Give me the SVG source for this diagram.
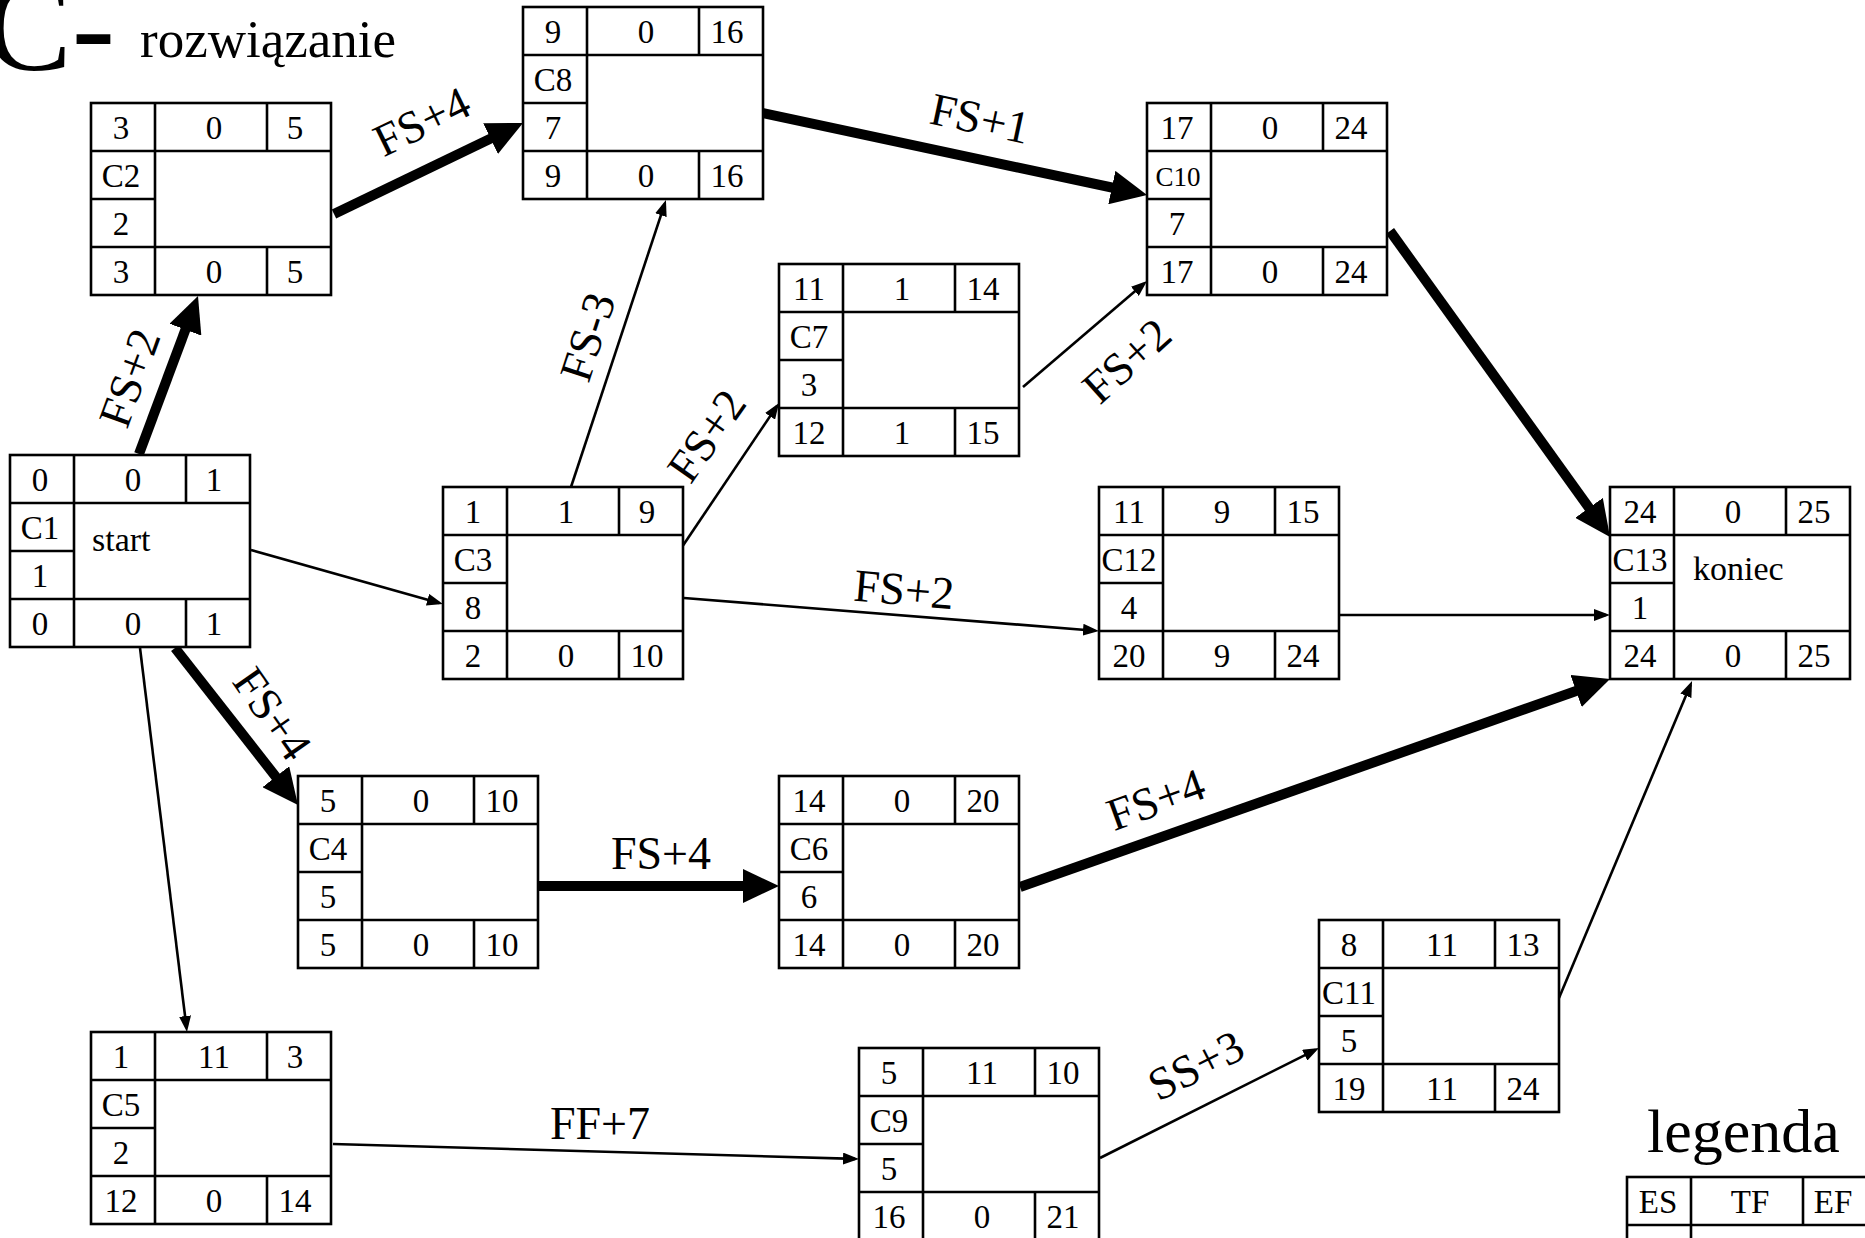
<svg xmlns="http://www.w3.org/2000/svg" xmlns:xlink="http://www.w3.org/1999/xlink" width="1865" height="1238" viewBox="0 0 1865 1238">
<style>
text{font-family:"Liberation Serif","Times New Roman",serif;fill:#000}
.n{font-size:33px;text-anchor:middle}
.c10{font-size:27px}
.inner{font-size:34px}
.lbl{font-size:46px;text-anchor:middle}
.box rect{fill:#fff;stroke:#000;stroke-width:2.6}
.box line{stroke:#000;stroke-width:2.6}
.thick{stroke:#000;stroke-width:10;fill:none;marker-end:url(#ahThick)}
.thin{stroke:#000;stroke-width:2.6;fill:none;marker-end:url(#ahThin)}
</style>
<defs>
<marker id="ahThick" markerUnits="userSpaceOnUse" markerWidth="36" markerHeight="34" refX="24" refY="17" orient="auto"><path d="M0,0 L36,17 L0,34 z" fill="#000"/></marker>
<marker id="ahThin" markerUnits="userSpaceOnUse" markerWidth="16" markerHeight="12" refX="12" refY="6" orient="auto"><path d="M0,0 L16,6 L0,12 z" fill="#000"/></marker>
<g id="box" class="box">
<rect x="0" y="0" width="240" height="192"/>
<line x1="0" y1="48" x2="240" y2="48"/>
<line x1="0" y1="144" x2="240" y2="144"/>
<line x1="64" y1="0" x2="64" y2="192"/>
<line x1="0" y1="96" x2="64" y2="96"/>
<line x1="176" y1="0" x2="176" y2="48"/>
<line x1="176" y1="144" x2="176" y2="192"/>
</g>
</defs>
<rect width="1865" height="1238" fill="#fff"/>

<g id="title">
<text x="-15" y="70" font-size="130">C-</text>
<text x="140" y="57" font-size="53">rozwiązanie</text>
</g>

<g id="connectors">
<line class="thick" x1="139" y1="454" x2="193.8" y2="307.2"/>
<line class="thick" x1="334" y1="214" x2="512.2" y2="128.2"/>
<line class="thick" x1="762" y1="113" x2="1135.3" y2="192.5"/>
<line class="thick" x1="1390" y1="231" x2="1603" y2="527.3"/>
<line class="thick" x1="175" y1="648" x2="290.6" y2="795.6"/>
<line class="thick" x1="538" y1="886" x2="767" y2="886"/>
<line class="thick" x1="1020" y1="887" x2="1598.7" y2="683"/>
<line class="thin" x1="251" y1="550" x2="439.1" y2="602.9"/>
<line class="thin" x1="571" y1="487" x2="664.7" y2="203.8"/>
<line class="thin" x1="682" y1="547" x2="776.8" y2="406.3"/>
<line class="thin" x1="1023" y1="387" x2="1144" y2="283.6"/>
<line class="thin" x1="684" y1="598" x2="1095" y2="630.7"/>
<line class="thin" x1="1339" y1="615" x2="1606" y2="615"/>
<line class="thin" x1="1559" y1="998" x2="1690.5" y2="684.7"/>
<line class="thin" x1="140" y1="648" x2="186.5" y2="1028"/>
<line class="thin" x1="333" y1="1144" x2="855" y2="1158.9"/>
<line class="thin" x1="1100" y1="1158" x2="1315.4" y2="1049.8"/>
<g id="labels">
<text class="lbl" transform="translate(130,378) rotate(-70)" y="15">FS+2</text>
<text class="lbl" transform="translate(422,122) rotate(-26)" y="15">FS+4</text>
<text class="lbl" transform="translate(980,119) rotate(12)" y="15">FS+1</text>
<text class="lbl" transform="translate(588,337) rotate(-72)" y="15">FS-3</text>
<text class="lbl" transform="translate(707,436) rotate(-55)" y="15">FS+2</text>
<text class="lbl" transform="translate(1127,361) rotate(-42)" y="15">FS+2</text>
<text class="lbl" transform="translate(904,590) rotate(5)" y="15">FS+2</text>
<text class="lbl" transform="translate(272,714) rotate(55)" y="15">FS+4</text>
<text class="lbl" x="661" y="869">FS+4</text>
<text class="lbl" transform="translate(1156,800) rotate(-20)" y="15">FS+4</text>
<text class="lbl" x="600" y="1139">FF+7</text>
<text class="lbl" transform="translate(1196,1066) rotate(-27)" y="15">SS+3</text>
</g>
</g>

<g id="C1" transform="translate(10,455)"><use xlink:href="#box"/>
<text class="n" x="30" y="36">0</text><text class="n" x="123" y="36">0</text><text class="n" x="204" y="36">1</text>
<text class="n" x="30" y="84">C1</text><text class="n" x="30" y="132">1</text>
<text class="n" x="30" y="180">0</text><text class="n" x="123" y="180">0</text><text class="n" x="204" y="180">1</text>
<text class="inner" x="82" y="96">start</text></g>

<g id="C2" transform="translate(91,103)"><use xlink:href="#box"/>
<text class="n" x="30" y="36">3</text><text class="n" x="123" y="36">0</text><text class="n" x="204" y="36">5</text>
<text class="n" x="30" y="84">C2</text><text class="n" x="30" y="132">2</text>
<text class="n" x="30" y="180">3</text><text class="n" x="123" y="180">0</text><text class="n" x="204" y="180">5</text></g>

<g id="C8" transform="translate(523,7)"><use xlink:href="#box"/>
<text class="n" x="30" y="36">9</text><text class="n" x="123" y="36">0</text><text class="n" x="204" y="36">16</text>
<text class="n" x="30" y="84">C8</text><text class="n" x="30" y="132">7</text>
<text class="n" x="30" y="180">9</text><text class="n" x="123" y="180">0</text><text class="n" x="204" y="180">16</text></g>

<g id="C10" transform="translate(1147,103)"><use xlink:href="#box"/>
<text class="n" x="30" y="36">17</text><text class="n" x="123" y="36">0</text><text class="n" x="204" y="36">24</text>
<text class="n c10" x="31" y="83">C10</text><text class="n" x="30" y="132">7</text>
<text class="n" x="30" y="180">17</text><text class="n" x="123" y="180">0</text><text class="n" x="204" y="180">24</text></g>

<g id="C7" transform="translate(779,264)"><use xlink:href="#box"/>
<text class="n" x="30" y="36">11</text><text class="n" x="123" y="36">1</text><text class="n" x="204" y="36">14</text>
<text class="n" x="30" y="84">C7</text><text class="n" x="30" y="132">3</text>
<text class="n" x="30" y="180">12</text><text class="n" x="123" y="180">1</text><text class="n" x="204" y="180">15</text></g>

<g id="C3" transform="translate(443,487)"><use xlink:href="#box"/>
<text class="n" x="30" y="36">1</text><text class="n" x="123" y="36">1</text><text class="n" x="204" y="36">9</text>
<text class="n" x="30" y="84">C3</text><text class="n" x="30" y="132">8</text>
<text class="n" x="30" y="180">2</text><text class="n" x="123" y="180">0</text><text class="n" x="204" y="180">10</text></g>

<g id="C12" transform="translate(1099,487)"><use xlink:href="#box"/>
<text class="n" x="30" y="36">11</text><text class="n" x="123" y="36">9</text><text class="n" x="204" y="36">15</text>
<text class="n" x="30" y="84">C12</text><text class="n" x="30" y="132">4</text>
<text class="n" x="30" y="180">20</text><text class="n" x="123" y="180">9</text><text class="n" x="204" y="180">24</text></g>

<g id="C13" transform="translate(1610,487)"><use xlink:href="#box"/>
<text class="n" x="30" y="36">24</text><text class="n" x="123" y="36">0</text><text class="n" x="204" y="36">25</text>
<text class="n" x="30" y="84">C13</text><text class="n" x="30" y="132">1</text>
<text class="n" x="30" y="180">24</text><text class="n" x="123" y="180">0</text><text class="n" x="204" y="180">25</text>
<text class="inner" x="83" y="93">koniec</text></g>

<g id="C4" transform="translate(298,776)"><use xlink:href="#box"/>
<text class="n" x="30" y="36">5</text><text class="n" x="123" y="36">0</text><text class="n" x="204" y="36">10</text>
<text class="n" x="30" y="84">C4</text><text class="n" x="30" y="132">5</text>
<text class="n" x="30" y="180">5</text><text class="n" x="123" y="180">0</text><text class="n" x="204" y="180">10</text></g>

<g id="C6" transform="translate(779,776)"><use xlink:href="#box"/>
<text class="n" x="30" y="36">14</text><text class="n" x="123" y="36">0</text><text class="n" x="204" y="36">20</text>
<text class="n" x="30" y="84">C6</text><text class="n" x="30" y="132">6</text>
<text class="n" x="30" y="180">14</text><text class="n" x="123" y="180">0</text><text class="n" x="204" y="180">20</text></g>

<g id="C11" transform="translate(1319,920)"><use xlink:href="#box"/>
<text class="n" x="30" y="36">8</text><text class="n" x="123" y="36">11</text><text class="n" x="204" y="36">13</text>
<text class="n" x="30" y="84">C11</text><text class="n" x="30" y="132">5</text>
<text class="n" x="30" y="180">19</text><text class="n" x="123" y="180">11</text><text class="n" x="204" y="180">24</text></g>

<g id="C5" transform="translate(91,1032)"><use xlink:href="#box"/>
<text class="n" x="30" y="36">1</text><text class="n" x="123" y="36">11</text><text class="n" x="204" y="36">3</text>
<text class="n" x="30" y="84">C5</text><text class="n" x="30" y="132">2</text>
<text class="n" x="30" y="180">12</text><text class="n" x="123" y="180">0</text><text class="n" x="204" y="180">14</text></g>

<g id="C9" transform="translate(859,1048)"><use xlink:href="#box"/>
<text class="n" x="30" y="36">5</text><text class="n" x="123" y="36">11</text><text class="n" x="204" y="36">10</text>
<text class="n" x="30" y="84">C9</text><text class="n" x="30" y="132">5</text>
<text class="n" x="30" y="180">16</text><text class="n" x="123" y="180">0</text><text class="n" x="204" y="180">21</text></g>

<g id="legend">
<text x="1647" y="1152" font-size="62">legenda</text>
<g class="box" transform="translate(1627,1177)">
<rect x="0" y="0" width="240" height="192"/>
<line x1="0" y1="48" x2="240" y2="48"/>
<line x1="64" y1="0" x2="64" y2="192"/>
<line x1="176" y1="0" x2="176" y2="48"/>
</g>
<text class="n" x="1658" y="1213">ES</text><text class="n" x="1750" y="1213">TF</text><text class="n" x="1833" y="1213">EF</text>
</g>
</svg>
